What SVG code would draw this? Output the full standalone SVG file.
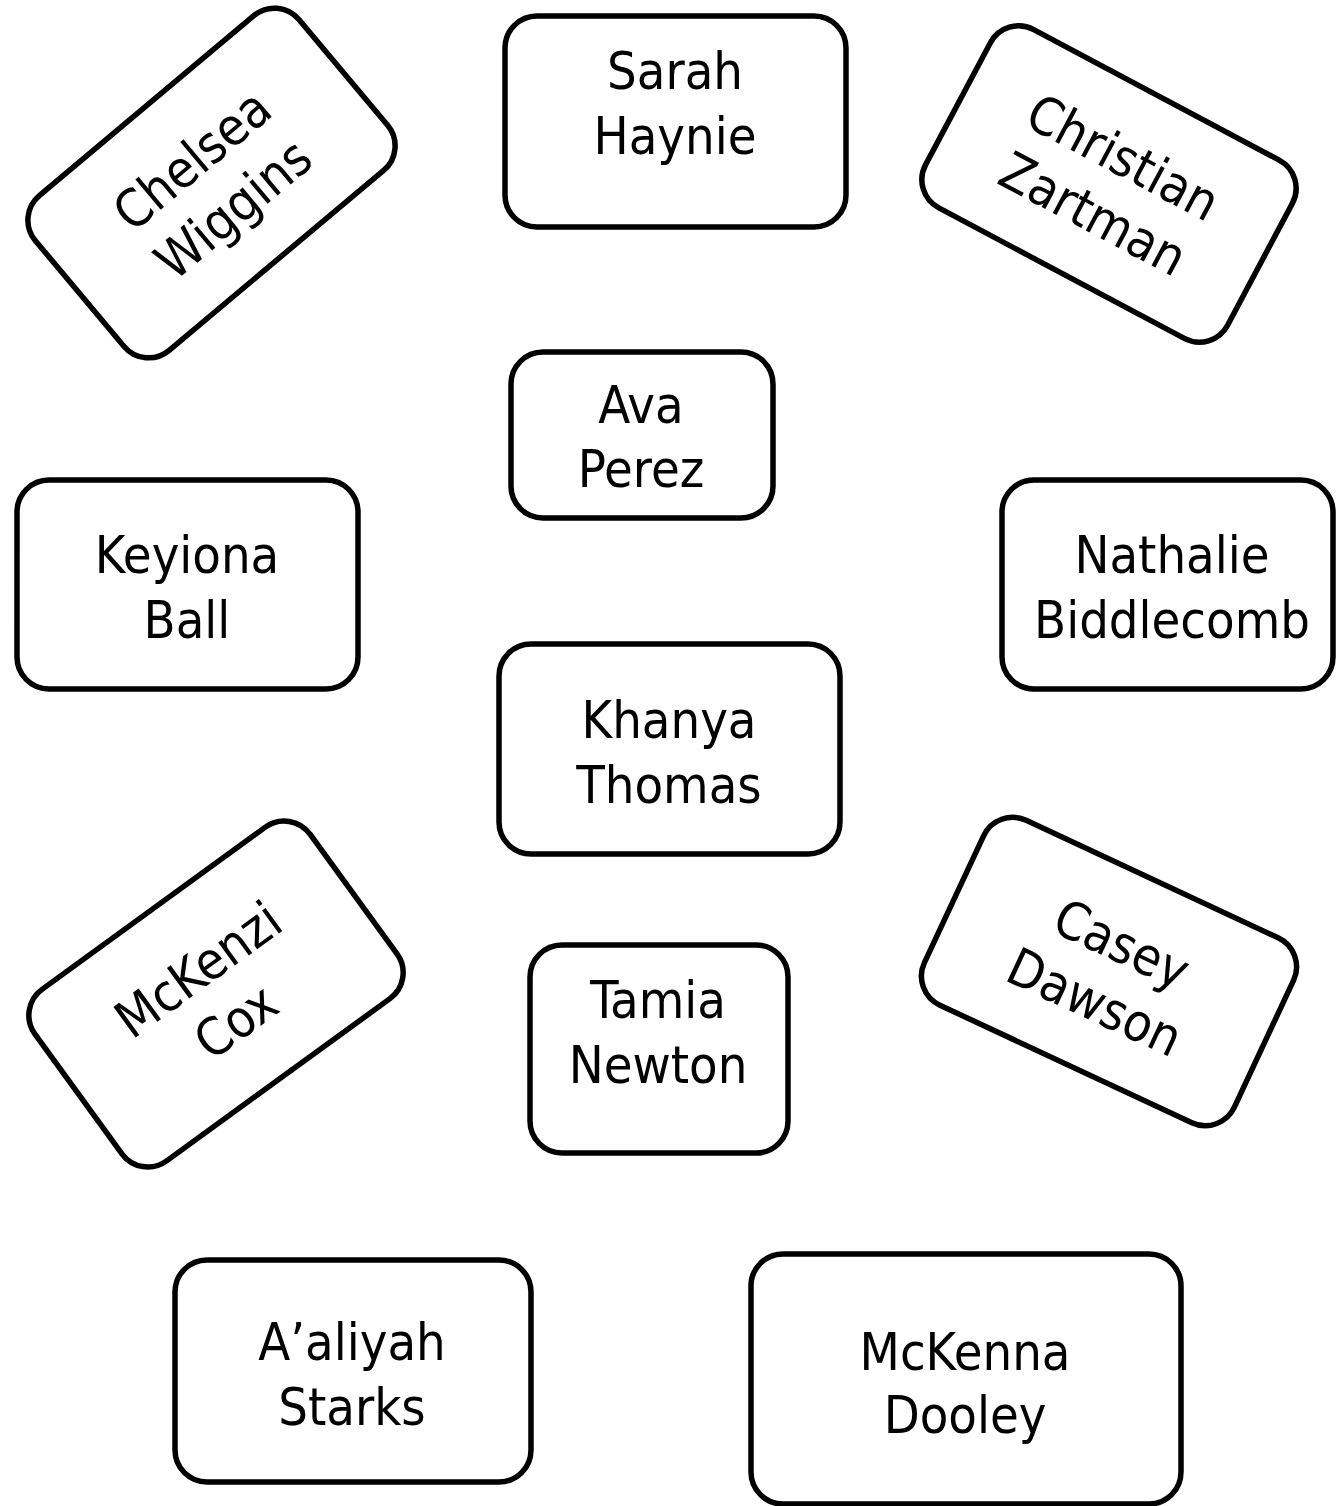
<svg xmlns="http://www.w3.org/2000/svg" width="1336" height="1506" viewBox="0 0 1336 1506">
<style>
.box{fill:#fff;stroke:#000;stroke-width:5.5}
.lbl{font-family:"DejaVu Sans Condensed","DejaVu Sans",sans-serif;font-stretch:condensed;font-size:52px;fill:#000;text-anchor:middle}
</style>
<rect x="0" y="0" width="1336" height="1506" fill="#fff"/>
<g id="nodes">
<g id="chelsea-wiggins" transform="translate(211.5,183) rotate(-40)">
<rect class="box" x="-172" y="-101" width="344" height="202" rx="32"/>
<text class="lbl" x="0" y="-12">Chelsea</text>
<text class="lbl" x="0" y="52">Wiggins</text>
</g>
<g id="sarah-haynie">
<rect class="box" x="505" y="16" width="341" height="211" rx="32"/>
<text class="lbl" x="675" y="89">Sarah</text>
<text class="lbl" x="675" y="154">Haynie</text>
</g>
<g id="christian-zartman" transform="translate(1109,184) rotate(28)">
<rect class="box" x="-171" y="-101" width="342" height="202" rx="32"/>
<text class="lbl" x="0" y="-12">Christian</text>
<text class="lbl" x="0" y="52">Zartman</text>
</g>
<g id="ava-perez">
<rect class="box" x="511" y="352" width="262" height="166" rx="32"/>
<text class="lbl" x="641" y="423">Ava</text>
<text class="lbl" x="641" y="487">Perez</text>
</g>
<g id="keyiona-ball">
<rect class="box" x="17" y="480" width="341" height="209" rx="32"/>
<text class="lbl" x="187" y="573">Keyiona</text>
<text class="lbl" x="187" y="638">Ball</text>
</g>
<g id="nathalie-biddlecomb">
<rect class="box" x="1002" y="480" width="331" height="209" rx="32"/>
<text class="lbl" x="1172" y="573">Nathalie</text>
<text class="lbl" x="1172" y="638">Biddlecomb</text>
</g>
<g id="khanya-thomas">
<rect class="box" x="499" y="644" width="341" height="210" rx="32"/>
<text class="lbl" x="669" y="738">Khanya</text>
<text class="lbl" x="669" y="803">Thomas</text>
</g>
<g id="mckenzi-cox" transform="translate(216,994) rotate(-36)">
<rect class="box" x="-170" y="-106" width="340" height="212" rx="32"/>
<text class="lbl" x="0" y="-12">McKenzi</text>
<text class="lbl" x="0" y="52">Cox</text>
</g>
<g id="casey-dawson" transform="translate(1109,971.5) rotate(25)">
<rect class="box" x="-171" y="-102" width="342" height="204" rx="32"/>
<text class="lbl" x="0" y="-12">Casey</text>
<text class="lbl" x="0" y="52">Dawson</text>
</g>
<g id="tamia-newton">
<rect class="box" x="530" y="945" width="258" height="208" rx="32"/>
<text class="lbl" x="658" y="1018">Tamia</text>
<text class="lbl" x="658" y="1083">Newton</text>
</g>
<g id="aaliyah-starks">
<rect class="box" x="175" y="1260" width="356" height="222" rx="32"/>
<text class="lbl" x="352" y="1360">A’aliyah</text>
<text class="lbl" x="352" y="1425">Starks</text>
</g>
<g id="mckenna-dooley">
<rect class="box" x="751" y="1254" width="430" height="250" rx="32"/>
<text class="lbl" x="965" y="1370">McKenna</text>
<text class="lbl" x="965" y="1433">Dooley</text>
</g>
</g>
<g id="connectors"></g>
</svg>
